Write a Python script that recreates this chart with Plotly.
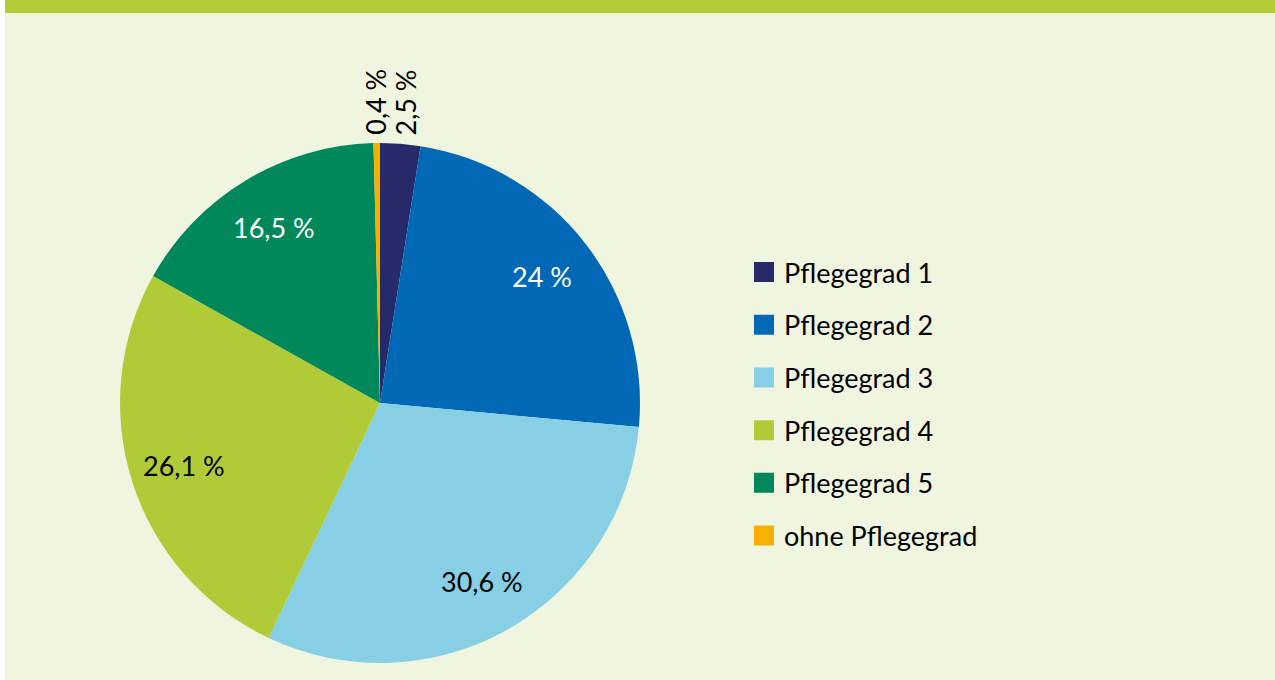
import math
import plotly.graph_objects as go

categories = ["Pflegegrad 1", "Pflegegrad 2", "Pflegegrad 3", "Pflegegrad 4", "Pflegegrad 5", "ohne Pflegegrad"]
values = [2.5, 24, 30.6, 26.1, 16.5, 0.4]
labels_txt = ["2,5 %", "24 %", "30,6 %", "26,1 %", "16,5 %", "0,4 %"]
colors = ["#262a6b", "#0068b4", "#87cfe5", "#b1cb38", "#00875a", "#f7b000"]
text_colors = ["#000000", "#ffffff", "#000000", "#000000", "#ffffff", "#000000"]
outside = [True, False, False, False, False, True]

W, H = 1275, 680
FONT = "Lato, 'Noto Sans', sans-serif"

# pie geometry (pixels)
cx, cy, R = 380, 403, 260
dom_x = [(cx - R) / W, (cx + R) / W]
dom_y = [(H - (cy + R)) / H, (H - (cy - R)) / H]

fig = go.Figure()

fig.add_trace(go.Pie(
    labels=categories,
    values=values,
    textinfo="none",
    marker=dict(colors=colors, line=dict(width=0)),
    sort=False,
    direction="clockwise",
    rotation=0,
    domain=dict(x=dom_x, y=dom_y),
    showlegend=False,
    hoverinfo="label+percent",
))

# legend entries
for i, (c, col) in enumerate(zip(categories, colors)):
    fig.add_trace(go.Scatter(
        x=[None], y=[None], mode="markers", name=c,
        legendgroup=c,
        marker=dict(symbol="square", size=16, color=col, line=dict(color=col, width=4)),
    ))

# data labels placed along each slice's mid-angle
total = sum(values)
cum = 0
annotations = []
for v, t, o, tc in zip(values, labels_txt, outside, text_colors):
    mid = (cum + v / 2) / total * 2 * math.pi
    cum += v
    if o:
        px = cx + 1.3 * R * math.sin(mid)
        py = cy - R - 6
        annotations.append(dict(
            x=px / W, y=(H - py) / H, xref="paper", yref="paper",
            text=t, showarrow=False, textangle=-90,
            xanchor="center", yanchor="bottom",
            font=dict(family=FONT, size=27, color=tc),
        ))
    else:
        px = cx + 0.79 * R * math.sin(mid)
        py = cy - 0.79 * R * math.cos(mid)
        annotations.append(dict(
            x=px / W, y=(H - py) / H, xref="paper", yref="paper",
            text=t, showarrow=False,
            xanchor="center", yanchor="middle",
            font=dict(family=FONT, size=27, color=tc),
        ))

shapes = [
    dict(type="rect", xref="paper", yref="paper", x0=0, x1=5 / W, y0=0, y1=1,
         fillcolor="#ffffff", line=dict(width=0), layer="below"),
    dict(type="rect", xref="paper", yref="paper", x0=5 / W, x1=1, y0=1 - 13 / H, y1=1,
         fillcolor="#b2cb36", line=dict(width=0), layer="below"),
]

fig.update_layout(
    width=W, height=H,
    margin=dict(l=0, r=0, t=0, b=0),
    paper_bgcolor="#eff5df",
    plot_bgcolor="rgba(0,0,0,0)",
    xaxis=dict(visible=False),
    yaxis=dict(visible=False),
    shapes=shapes,
    annotations=annotations,
    legend=dict(
        x=744 / W, y=1 - 248 / H, xanchor="left", yanchor="top",
        font=dict(family=FONT, size=27, color="#000000"),
        tracegroupgap=14.6,
        bgcolor="rgba(0,0,0,0)",
        itemclick=False, itemdoubleclick=False,
    ),
    showlegend=True,
)

fig.write_html("out.html", config={"displayModeBar": False},
               post_script="document.body.style.margin='0';")
